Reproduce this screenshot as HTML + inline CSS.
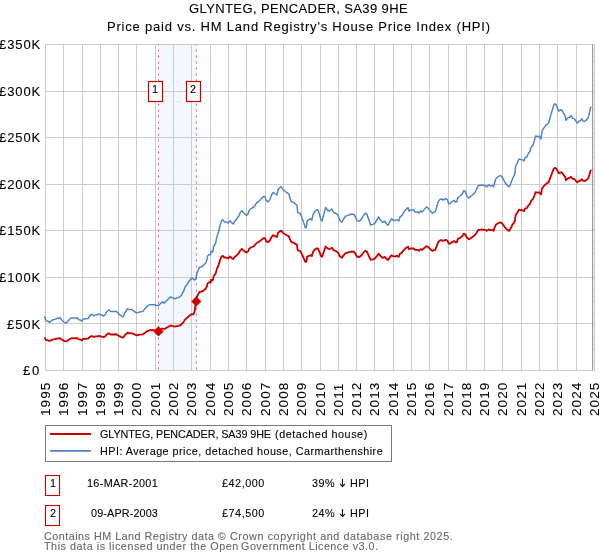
<!DOCTYPE html><html><head><meta charset="utf-8"><title>HPI chart</title><style>
html,body{margin:0;padding:0;background:#fff}body{width:600px;height:560px;position:relative;overflow:hidden;font-family:"Liberation Sans",sans-serif}
.t{position:absolute;white-space:pre;line-height:1;margin:0;padding:0;will-change:transform;-webkit-text-stroke:0.1px currentColor}
.y{position:absolute;white-space:pre;line-height:1;transform-origin:0 0;transform:rotate(-90deg);font-size:13.5px;will-change:transform;-webkit-text-stroke:0.1px #000}
</style></head><body>
<svg width="600" height="560" viewBox="0 0 600 560" style="position:absolute;left:0;top:0">
<rect x="158.5" y="44.5" width="37.9" height="325.7" fill="#f4f7fd"/>
<line x1="45.5" y1="44.5" x2="45.5" y2="370.2" stroke="#cccccc" stroke-width="1"/>
<line x1="63.5" y1="44.5" x2="63.5" y2="370.2" stroke="#cccccc" stroke-width="1"/>
<line x1="82.5" y1="44.5" x2="82.5" y2="370.2" stroke="#cccccc" stroke-width="1"/>
<line x1="100.5" y1="44.5" x2="100.5" y2="370.2" stroke="#cccccc" stroke-width="1"/>
<line x1="118.5" y1="44.5" x2="118.5" y2="370.2" stroke="#cccccc" stroke-width="1"/>
<line x1="136.5" y1="44.5" x2="136.5" y2="370.2" stroke="#cccccc" stroke-width="1"/>
<line x1="155.5" y1="44.5" x2="155.5" y2="370.2" stroke="#cccccc" stroke-width="1"/>
<line x1="173.5" y1="44.5" x2="173.5" y2="370.2" stroke="#cccccc" stroke-width="1"/>
<line x1="191.5" y1="44.5" x2="191.5" y2="370.2" stroke="#cccccc" stroke-width="1"/>
<line x1="210.5" y1="44.5" x2="210.5" y2="370.2" stroke="#cccccc" stroke-width="1"/>
<line x1="228.5" y1="44.5" x2="228.5" y2="370.2" stroke="#cccccc" stroke-width="1"/>
<line x1="246.5" y1="44.5" x2="246.5" y2="370.2" stroke="#cccccc" stroke-width="1"/>
<line x1="265.5" y1="44.5" x2="265.5" y2="370.2" stroke="#cccccc" stroke-width="1"/>
<line x1="283.5" y1="44.5" x2="283.5" y2="370.2" stroke="#cccccc" stroke-width="1"/>
<line x1="301.5" y1="44.5" x2="301.5" y2="370.2" stroke="#cccccc" stroke-width="1"/>
<line x1="320.5" y1="44.5" x2="320.5" y2="370.2" stroke="#cccccc" stroke-width="1"/>
<line x1="338.5" y1="44.5" x2="338.5" y2="370.2" stroke="#cccccc" stroke-width="1"/>
<line x1="356.5" y1="44.5" x2="356.5" y2="370.2" stroke="#cccccc" stroke-width="1"/>
<line x1="374.5" y1="44.5" x2="374.5" y2="370.2" stroke="#cccccc" stroke-width="1"/>
<line x1="393.5" y1="44.5" x2="393.5" y2="370.2" stroke="#cccccc" stroke-width="1"/>
<line x1="411.5" y1="44.5" x2="411.5" y2="370.2" stroke="#cccccc" stroke-width="1"/>
<line x1="429.5" y1="44.5" x2="429.5" y2="370.2" stroke="#cccccc" stroke-width="1"/>
<line x1="448.5" y1="44.5" x2="448.5" y2="370.2" stroke="#cccccc" stroke-width="1"/>
<line x1="466.5" y1="44.5" x2="466.5" y2="370.2" stroke="#cccccc" stroke-width="1"/>
<line x1="484.5" y1="44.5" x2="484.5" y2="370.2" stroke="#cccccc" stroke-width="1"/>
<line x1="502.5" y1="44.5" x2="502.5" y2="370.2" stroke="#cccccc" stroke-width="1"/>
<line x1="521.5" y1="44.5" x2="521.5" y2="370.2" stroke="#cccccc" stroke-width="1"/>
<line x1="539.5" y1="44.5" x2="539.5" y2="370.2" stroke="#cccccc" stroke-width="1"/>
<line x1="557.5" y1="44.5" x2="557.5" y2="370.2" stroke="#cccccc" stroke-width="1"/>
<line x1="576.5" y1="44.5" x2="576.5" y2="370.2" stroke="#cccccc" stroke-width="1"/>
<line x1="594.5" y1="44.5" x2="594.5" y2="370.2" stroke="#cccccc" stroke-width="1"/>
<line x1="45.0" y1="370.5" x2="595.0" y2="370.5" stroke="#cccccc" stroke-width="1"/>
<line x1="45.0" y1="323.5" x2="595.0" y2="323.5" stroke="#cccccc" stroke-width="1"/>
<line x1="45.0" y1="277.5" x2="595.0" y2="277.5" stroke="#cccccc" stroke-width="1"/>
<line x1="45.0" y1="230.5" x2="595.0" y2="230.5" stroke="#cccccc" stroke-width="1"/>
<line x1="45.0" y1="184.5" x2="595.0" y2="184.5" stroke="#cccccc" stroke-width="1"/>
<line x1="45.0" y1="137.5" x2="595.0" y2="137.5" stroke="#cccccc" stroke-width="1"/>
<line x1="45.0" y1="91.5" x2="595.0" y2="91.5" stroke="#cccccc" stroke-width="1"/>
<line x1="45.0" y1="44.5" x2="595.0" y2="44.5" stroke="#cccccc" stroke-width="1"/>
<line x1="592.6" y1="44.5" x2="592.6" y2="370.2" stroke="#969696" stroke-width="1.1"/>
<line x1="593" y1="49.4" x2="594.5" y2="49.4" stroke="#c4c4c4" stroke-width="1"/>
<line x1="593" y1="61.4" x2="594.5" y2="61.4" stroke="#c4c4c4" stroke-width="1"/>
<line x1="593" y1="73.4" x2="594.5" y2="73.4" stroke="#c4c4c4" stroke-width="1"/>
<line x1="593" y1="85.4" x2="594.5" y2="85.4" stroke="#c4c4c4" stroke-width="1"/>
<line x1="593" y1="97.4" x2="594.5" y2="97.4" stroke="#c4c4c4" stroke-width="1"/>
<line x1="593" y1="109.4" x2="594.5" y2="109.4" stroke="#c4c4c4" stroke-width="1"/>
<line x1="593" y1="121.4" x2="594.5" y2="121.4" stroke="#c4c4c4" stroke-width="1"/>
<line x1="593" y1="133.4" x2="594.5" y2="133.4" stroke="#c4c4c4" stroke-width="1"/>
<line x1="593" y1="145.4" x2="594.5" y2="145.4" stroke="#c4c4c4" stroke-width="1"/>
<line x1="593" y1="157.4" x2="594.5" y2="157.4" stroke="#c4c4c4" stroke-width="1"/>
<line x1="593" y1="169.4" x2="594.5" y2="169.4" stroke="#c4c4c4" stroke-width="1"/>
<line x1="593" y1="181.4" x2="594.5" y2="181.4" stroke="#c4c4c4" stroke-width="1"/>
<line x1="593" y1="193.4" x2="594.5" y2="193.4" stroke="#c4c4c4" stroke-width="1"/>
<line x1="593" y1="205.4" x2="594.5" y2="205.4" stroke="#c4c4c4" stroke-width="1"/>
<line x1="593" y1="217.4" x2="594.5" y2="217.4" stroke="#c4c4c4" stroke-width="1"/>
<line x1="593" y1="229.4" x2="594.5" y2="229.4" stroke="#c4c4c4" stroke-width="1"/>
<line x1="593" y1="241.4" x2="594.5" y2="241.4" stroke="#c4c4c4" stroke-width="1"/>
<line x1="593" y1="253.4" x2="594.5" y2="253.4" stroke="#c4c4c4" stroke-width="1"/>
<line x1="593" y1="265.4" x2="594.5" y2="265.4" stroke="#c4c4c4" stroke-width="1"/>
<line x1="593" y1="277.4" x2="594.5" y2="277.4" stroke="#c4c4c4" stroke-width="1"/>
<line x1="593" y1="289.4" x2="594.5" y2="289.4" stroke="#c4c4c4" stroke-width="1"/>
<line x1="593" y1="301.4" x2="594.5" y2="301.4" stroke="#c4c4c4" stroke-width="1"/>
<line x1="593" y1="313.4" x2="594.5" y2="313.4" stroke="#c4c4c4" stroke-width="1"/>
<line x1="593" y1="325.4" x2="594.5" y2="325.4" stroke="#c4c4c4" stroke-width="1"/>
<line x1="593" y1="337.4" x2="594.5" y2="337.4" stroke="#c4c4c4" stroke-width="1"/>
<line x1="593" y1="349.4" x2="594.5" y2="349.4" stroke="#c4c4c4" stroke-width="1"/>
<line x1="593" y1="361.4" x2="594.5" y2="361.4" stroke="#c4c4c4" stroke-width="1"/>
<line x1="158.5" y1="44.5" x2="158.5" y2="370.2" stroke="#ff5555" stroke-width="1" stroke-dasharray="2 4" stroke-dashoffset="1"/>
<line x1="196.4" y1="44.5" x2="196.4" y2="370.2" stroke="#ff5555" stroke-width="1" stroke-dasharray="2 4" stroke-dashoffset="1"/>
<polyline points="44.50,316.50 46.00,320.62 47.75,321.25 49.75,322.25 52.25,320.00 55.00,319.38 57.50,318.12 58.75,318.50 60.00,317.75 61.88,320.00 64.38,322.50 66.25,322.88 68.12,321.00 70.62,318.12 73.75,317.88 77.25,317.88 79.00,319.75 80.62,320.00 81.88,321.25 83.12,319.00 88.12,318.50 90.00,315.25 91.50,314.50 93.12,315.00 94.00,315.88 95.62,314.75 97.50,314.75 98.75,313.75 100.00,314.75 101.88,315.00 103.75,316.00 105.00,315.00 106.88,311.50 109.00,309.75 110.62,311.62 113.75,311.62 115.00,311.62 116.25,311.25 117.50,312.50 120.62,315.62 123.12,316.88 125.00,312.50 127.50,308.75 128.75,309.62 131.88,309.62 134.38,311.50 136.50,312.88 138.12,312.50 140.00,311.88 142.75,311.50 145.00,308.75 147.50,306.00 149.38,304.75 155.00,304.75 156.50,305.62 158.50,305.62 160.00,304.00 162.50,301.88 164.00,303.12 167.50,299.75 170.62,296.88 172.50,297.88 175.00,298.75 176.88,297.88 178.75,297.50 181.25,295.62 182.50,293.12 183.75,291.00 185.00,287.25 187.50,283.75 190.00,280.00 191.88,278.12 193.12,278.75 194.38,280.00 195.62,279.38 196.88,273.75 198.75,268.75 200.00,266.88 201.88,266.88 205.00,263.75 206.25,261.88 206.88,260.00 207.50,256.25 209.00,254.38 210.62,255.00 211.25,251.25 212.75,251.88 213.75,246.25 215.62,243.12 216.88,236.88 218.75,231.25 220.00,225.62 221.50,220.62 222.75,219.75 224.38,221.88 226.25,221.88 228.12,223.12 230.00,220.62 231.50,222.50 233.12,224.00 234.75,221.25 236.88,218.75 238.75,216.25 240.25,212.50 241.88,210.62 244.38,213.75 246.50,215.38 248.12,213.75 249.38,210.00 251.88,208.12 254.00,206.88 256.88,202.50 258.75,201.50 261.25,198.75 263.50,196.50 265.00,196.50 266.25,200.62 268.12,201.88 270.00,199.38 271.50,195.00 273.12,192.50 275.00,193.75 276.88,195.00 278.12,189.38 280.00,187.50 281.25,186.50 283.12,189.75 285.00,191.25 286.88,192.75 288.75,193.75 290.00,198.12 291.50,201.88 293.75,202.25 295.00,203.75 296.88,205.00 297.75,212.50 300.00,213.12 301.88,217.50 303.75,223.12 305.25,227.50 306.25,227.75 307.25,220.62 309.00,219.75 311.00,218.75 311.88,220.00 313.12,214.38 315.00,211.25 316.88,209.75 318.12,210.25 319.38,214.38 321.00,220.00 322.12,221.00 323.75,214.38 325.62,207.50 327.50,210.00 329.38,211.00 331.88,209.00 333.75,212.50 336.25,213.50 338.12,215.62 340.00,220.62 341.88,222.25 343.75,218.75 345.62,216.00 347.50,215.62 349.38,214.75 351.88,214.00 353.75,214.38 355.00,216.00 356.88,220.62 359.38,221.25 361.25,219.38 363.75,215.00 365.62,213.12 366.88,214.38 368.75,219.38 370.62,225.00 373.12,224.38 375.00,223.12 376.88,220.00 378.75,216.88 380.00,219.38 382.50,222.25 385.00,221.25 386.88,224.38 388.12,225.25 390.00,221.25 391.50,219.00 393.12,220.00 395.00,220.62 396.88,219.75 398.75,221.00 400.00,216.88 401.88,215.62 403.12,213.12 405.00,210.62 406.88,208.50 408.12,207.75 409.00,211.00 411.25,210.00 413.75,210.00 415.00,211.88 417.50,211.88 419.00,213.12 420.62,211.00 422.25,211.88 424.38,209.38 426.50,206.88 428.12,208.12 430.00,210.62 432.25,213.12 433.75,212.25 435.25,211.88 436.88,206.25 438.12,201.88 440.00,199.38 441.50,199.00 443.12,200.00 445.62,198.75 447.25,199.38 448.75,203.75 450.25,203.50 452.50,201.25 454.00,200.25 455.00,201.88 456.88,201.88 457.75,197.50 460.00,196.00 462.25,194.00 463.75,190.62 465.00,191.25 466.88,195.62 468.75,198.12 470.62,196.50 473.12,194.38 475.00,192.25 476.25,190.00 478.12,185.62 480.00,185.62 481.88,184.75 483.75,185.62 485.62,185.62 486.88,186.88 488.75,185.00 490.62,186.00 492.50,185.62 493.50,186.88 495.00,181.25 496.00,178.50 498.12,176.88 500.00,175.62 501.25,176.00 503.12,178.75 505.00,182.50 506.88,185.00 509.00,186.88 510.62,183.75 512.50,178.75 514.75,174.38 515.62,166.25 517.25,163.12 519.00,159.00 520.62,159.38 522.50,159.75 524.00,161.00 525.00,157.75 526.88,156.88 528.12,154.00 530.00,151.25 531.00,147.50 533.12,144.75 534.38,140.62 535.62,136.00 537.50,136.50 539.38,136.25 541.00,139.00 541.88,131.50 543.75,128.12 545.62,125.62 547.25,124.00 548.50,123.12 549.75,118.75 551.00,114.38 552.50,109.38 553.75,105.00 555.00,103.75 556.25,105.00 557.50,108.12 558.75,111.00 560.62,110.00 561.88,110.00 563.50,113.12 565.00,115.62 566.00,120.25 567.50,118.12 569.38,117.25 571.00,115.62 572.50,118.12 574.38,118.75 575.62,120.62 577.25,123.12 578.75,121.25 580.62,120.62 581.88,118.75 583.12,121.00 585.00,121.25 586.88,119.38 588.12,118.12 589.38,113.12 590.62,107.50 591.50,106.88" fill="none" stroke="#4f84c9" stroke-width="1.5" stroke-linejoin="round" stroke-linecap="butt"/>
<polyline points="44.50,337.44 46.00,339.96 47.75,340.34 49.75,340.95 52.25,339.58 55.00,339.20 57.50,338.43 58.75,338.66 60.00,338.21 61.88,339.58 64.38,341.10 66.25,341.33 68.12,340.19 70.62,338.43 73.75,338.28 77.25,338.28 79.00,339.43 80.62,339.58 81.88,340.34 83.12,338.97 88.12,338.66 90.00,336.68 91.50,336.22 93.12,336.53 94.00,337.06 95.62,336.38 97.50,336.38 98.75,335.77 100.00,336.38 101.88,336.53 103.75,337.14 105.00,336.53 106.88,334.39 109.00,333.33 110.62,334.47 113.75,334.47 115.00,334.47 116.25,334.24 117.50,335.00 120.62,336.91 123.12,337.67 125.00,335.00 127.50,332.72 128.75,333.25 131.88,333.25 134.38,334.39 136.50,335.23 138.12,335.00 140.00,334.62 142.75,334.39 145.00,332.72 147.50,331.04 149.38,330.28 155.00,330.28 156.50,330.81 158.50,330.81 160.00,329.82 162.50,328.52 164.00,329.28 167.50,327.23 170.62,325.47 172.50,326.08 175.00,326.62 176.88,326.08 178.75,325.85 181.25,324.71 182.50,323.18 183.75,321.89 185.00,319.60 187.50,317.47 190.00,315.18 191.88,314.03 193.12,314.42 194.38,312.38 195.62,304.58 196.88,296.90 198.75,293.10 200.00,291.67 201.88,291.67 205.00,289.30 206.25,287.87 206.88,286.45 207.50,283.60 209.00,282.17 210.62,282.65 211.25,279.80 212.75,280.27 213.75,276.00 215.62,273.62 216.88,268.87 218.75,264.60 220.00,260.32 221.50,256.52 222.75,255.86 224.38,257.47 226.25,257.47 228.12,258.42 230.00,256.52 231.50,257.95 233.12,259.09 234.75,257.00 236.88,255.10 238.75,253.20 240.25,250.35 241.88,248.92 244.38,251.30 246.50,252.53 248.12,251.30 249.38,248.45 251.88,247.02 254.00,246.07 256.88,242.75 258.75,241.99 261.25,239.90 263.50,238.19 265.00,238.19 266.25,241.32 268.12,242.27 270.00,240.37 271.50,237.05 273.12,235.15 275.00,236.10 276.88,237.05 278.12,232.77 280.00,231.35 281.25,230.59 283.12,233.06 285.00,234.20 286.88,235.34 288.75,236.10 290.00,239.42 291.50,242.27 293.75,242.56 295.00,243.70 296.88,244.65 297.75,250.35 300.00,250.82 301.88,254.15 303.75,258.42 305.25,261.75 306.25,261.94 307.25,256.52 309.00,255.86 311.00,255.10 311.88,256.05 313.12,251.77 315.00,249.40 316.88,248.26 318.12,248.64 319.38,251.77 321.00,256.05 322.12,256.81 323.75,251.77 325.62,246.55 327.50,248.45 329.38,249.21 331.88,247.69 333.75,250.35 336.25,251.11 338.12,252.72 340.00,256.52 341.88,257.76 343.75,255.10 345.62,253.01 347.50,252.72 349.38,252.06 351.88,251.49 353.75,251.77 355.00,253.01 356.88,256.52 359.38,257.00 361.25,255.57 363.75,252.25 365.62,250.82 366.88,251.77 368.75,255.57 370.62,259.85 373.12,259.37 375.00,258.42 376.88,256.05 378.75,253.67 380.00,255.57 382.50,257.76 385.00,257.00 386.88,259.37 388.12,260.04 390.00,257.00 391.50,255.29 393.12,256.05 395.00,256.52 396.88,255.86 398.75,256.81 400.00,253.67 401.88,252.72 403.12,250.82 405.00,248.92 406.88,247.31 408.12,246.74 409.00,249.21 411.25,248.45 413.75,248.45 415.00,249.87 417.50,249.87 419.00,250.82 420.62,249.21 422.25,249.87 424.38,247.97 426.50,246.07 428.12,247.02 430.00,248.92 432.25,250.82 433.75,250.16 435.25,249.87 436.88,245.60 438.12,242.27 440.00,240.37 441.50,240.09 443.12,240.85 445.62,239.90 447.25,240.37 448.75,243.70 450.25,243.51 452.50,241.80 454.00,241.04 455.00,242.27 456.88,242.27 457.75,238.95 460.00,237.81 462.25,236.29 463.75,233.72 465.00,234.20 466.88,237.52 468.75,239.42 470.62,238.19 473.12,236.57 475.00,234.96 476.25,233.25 478.12,229.92 480.00,229.92 481.88,229.26 483.75,229.92 485.62,229.92 486.88,230.87 488.75,229.45 490.62,230.21 492.50,229.92 493.50,230.87 495.00,226.60 496.00,224.51 498.12,223.27 500.00,222.32 501.25,222.61 503.12,224.70 505.00,227.55 506.88,229.45 509.00,230.87 510.62,228.50 512.50,224.70 514.75,221.37 515.62,215.20 517.25,212.82 519.00,209.69 520.62,209.97 522.50,210.26 524.00,211.21 525.00,208.74 526.88,208.07 528.12,205.89 530.00,203.80 531.00,200.95 533.12,198.86 534.38,195.72 535.62,192.21 537.50,192.59 539.38,192.40 541.00,194.49 541.88,188.79 543.75,186.22 545.62,184.32 547.25,183.09 548.50,182.42 549.75,179.10 551.00,175.77 552.50,171.97 553.75,168.65 555.00,167.70 556.25,168.65 557.50,171.02 558.75,173.21 560.62,172.45 561.88,172.45 563.50,174.82 565.00,176.72 566.00,180.24 567.50,178.62 569.38,177.96 571.00,176.72 572.50,178.62 574.38,179.10 575.62,180.52 577.25,182.42 578.75,181.00 580.62,180.52 581.88,179.10 583.12,180.81 585.00,181.00 586.88,179.57 588.12,178.62 589.38,174.82 590.62,170.55 591.50,170.07" fill="none" stroke="#cc0000" stroke-width="1.85" stroke-linejoin="round" stroke-linecap="butt"/>
<polygon points="158.5,326.3 163.6,331.4 158.5,336.5 153.4,331.4" fill="#cc0000"/>
<polygon points="196.3,296.3 201.4,301.4 196.3,306.5 191.2,301.4" fill="#cc0000"/>
<rect x="148.5" y="81.5" width="14" height="20" fill="#fff" stroke="#cc0000" stroke-width="1.2"/>
<rect x="186.5" y="81.5" width="14" height="20" fill="#fff" stroke="#cc0000" stroke-width="1.2"/>
<rect x="45.5" y="425.5" width="346" height="36" fill="#fff" stroke="#7a7a7a" stroke-width="1"/>
<line x1="50" y1="434" x2="91" y2="434" stroke="#cc0000" stroke-width="2.1"/>
<line x1="50" y1="450.9" x2="91" y2="450.9" stroke="#4f84c9" stroke-width="1.75"/>
<rect x="45.5" y="475.5" width="14" height="20" fill="#fff" stroke="#cc0000" stroke-width="1.1"/>
<rect x="45.5" y="505.5" width="14" height="20" fill="#fff" stroke="#cc0000" stroke-width="1.1"/>
<path d="M342.5,479.0 V486.4 M340.1,483.9 L342.5,486.7 L344.9,483.9" fill="none" stroke="#111" stroke-width="1.1" stroke-linejoin="miter"/>
<path d="M342.5,509.0 V516.4 M340.1,513.9 L342.5,516.7 L344.9,513.9" fill="none" stroke="#111" stroke-width="1.1" stroke-linejoin="miter"/>
</svg>
<div class="t" id="t0" style="left:189.16px;top:2.00px;font-size:13.0px;color:#000;letter-spacing:0.388px">GLYNTEG, PENCADER, SA39 9HE</div>
<div class="t" id="t1" style="left:107.10px;top:20.00px;font-size:13.0px;color:#000;letter-spacing:0.797px">Price paid vs. HM Land Registry's House Price Index (HPI)</div>
<div class="t" id="t2" style="left:23.46px;top:363.72px;font-size:13.0px;color:#000;letter-spacing:1.750px">£0</div>
<div class="t" id="t3" style="left:6.70px;top:317.57px;font-size:13.0px;color:#000;letter-spacing:0.900px">£50K</div>
<div class="t" id="t4" style="left:-1.20px;top:270.89px;font-size:13.0px;color:#000;letter-spacing:0.900px">£100K</div>
<div class="t" id="t5" style="left:-1.20px;top:224.21px;font-size:13.0px;color:#000;letter-spacing:0.900px">£150K</div>
<div class="t" id="t6" style="left:-1.20px;top:177.52px;font-size:13.0px;color:#000;letter-spacing:0.900px">£200K</div>
<div class="t" id="t7" style="left:-1.20px;top:130.84px;font-size:13.0px;color:#000;letter-spacing:0.900px">£250K</div>
<div class="t" id="t8" style="left:-1.20px;top:85.06px;font-size:13.0px;color:#000;letter-spacing:0.900px">£300K</div>
<div class="t" id="t9" style="left:-1.20px;top:38.38px;font-size:13.0px;color:#000;letter-spacing:0.900px">£350K</div>
<div class="t" id="t10" style="left:100.17px;top:428.56px;font-size:10.8px;color:#000;letter-spacing:-0.082px">GLYNTEG, PENCADER, SA39 9HE</div>
<div class="t" id="t11" style="left:99.98px;top:445.86px;font-size:10.8px;color:#000;letter-spacing:0.472px">HPI: Average price, detached house, Carmarthenshire</div>
<div class="t" id="t12" style="left:152.40px;top:83.67px;font-size:10.8px;color:#000;letter-spacing:0.000px">1</div>
<div class="t" id="t13" style="left:190.35px;top:83.67px;font-size:10.8px;color:#000;letter-spacing:0.000px">2</div>
<div class="t" id="t14" style="left:49.60px;top:477.83px;font-size:10.8px;color:#000;letter-spacing:0.000px">1</div>
<div class="t" id="t15" style="left:50.30px;top:507.83px;font-size:10.8px;color:#000;letter-spacing:0.000px">2</div>
<div class="t" id="t16" style="left:86.82px;top:477.74px;font-size:10.8px;color:#000;letter-spacing:0.350px">16-MAR-2001</div>
<div class="t" id="t17" style="left:90.88px;top:507.74px;font-size:10.8px;color:#000;letter-spacing:0.144px">09-APR-2003</div>
<div class="t" id="t18" style="left:221.98px;top:477.56px;font-size:10.8px;color:#000;letter-spacing:0.540px">£42,000</div>
<div class="t" id="t19" style="left:221.98px;top:507.56px;font-size:10.8px;color:#000;letter-spacing:0.540px">£74,500</div>
<div class="t" id="t20" style="left:312.12px;top:477.74px;font-size:10.8px;color:#000;letter-spacing:0.540px">39%</div>
<div class="t" id="t21" style="left:349.98px;top:477.74px;font-size:10.8px;color:#000;letter-spacing:0.450px">HPI</div>
<div class="t" id="t22" style="left:312.12px;top:507.74px;font-size:10.8px;color:#000;letter-spacing:0.540px">24%</div>
<div class="t" id="t23" style="left:349.98px;top:507.74px;font-size:10.8px;color:#000;letter-spacing:0.450px">HPI</div>
<div class="t" id="t24" style="left:44.31px;top:530.86px;font-size:10.8px;color:#666;letter-spacing:0.478px">Contains HM Land Registry data ©</div>
<div class="t" id="t25" style="left:44.24px;top:540.86px;font-size:10.8px;color:#666;letter-spacing:0.529px">This data is licensed under the Open</div>
<div class="t" id="t26" style="left:275.10px;top:428.56px;font-size:10.8px;color:#000;letter-spacing:0.546px">(detached house)</div>
<div class="t" id="t27" style="left:230.10px;top:530.86px;font-size:10.8px;color:#666;letter-spacing:0.572px">Crown copyright and database right 2025.</div>
<div class="t" id="t28" style="left:241.46px;top:540.86px;font-size:10.8px;color:#666;letter-spacing:0.477px">Government Licence v3.0.</div>
<div class="y" id="y0" style="left:39.00px;top:416.07px;letter-spacing:1.070px">1995</div>
<div class="y" id="y1" style="left:57.00px;top:416.07px;letter-spacing:1.070px">1996</div>
<div class="y" id="y2" style="left:76.00px;top:416.07px;letter-spacing:1.070px">1997</div>
<div class="y" id="y3" style="left:94.00px;top:416.07px;letter-spacing:1.070px">1998</div>
<div class="y" id="y4" style="left:112.00px;top:416.07px;letter-spacing:1.070px">1999</div>
<div class="y" id="y5" style="left:130.00px;top:416.07px;letter-spacing:1.070px">2000</div>
<div class="y" id="y6" style="left:149.00px;top:416.07px;letter-spacing:1.070px">2001</div>
<div class="y" id="y7" style="left:167.00px;top:416.07px;letter-spacing:1.070px">2002</div>
<div class="y" id="y8" style="left:185.00px;top:416.07px;letter-spacing:1.070px">2003</div>
<div class="y" id="y9" style="left:204.00px;top:416.07px;letter-spacing:1.070px">2004</div>
<div class="y" id="y10" style="left:222.00px;top:416.07px;letter-spacing:1.070px">2005</div>
<div class="y" id="y11" style="left:240.00px;top:416.07px;letter-spacing:1.070px">2006</div>
<div class="y" id="y12" style="left:259.00px;top:416.07px;letter-spacing:1.070px">2007</div>
<div class="y" id="y13" style="left:277.00px;top:416.07px;letter-spacing:1.070px">2008</div>
<div class="y" id="y14" style="left:295.00px;top:416.07px;letter-spacing:1.070px">2009</div>
<div class="y" id="y15" style="left:314.00px;top:416.07px;letter-spacing:1.070px">2010</div>
<div class="y" id="y16" style="left:332.00px;top:416.07px;letter-spacing:1.070px">2011</div>
<div class="y" id="y17" style="left:350.00px;top:416.07px;letter-spacing:1.070px">2012</div>
<div class="y" id="y18" style="left:368.00px;top:416.07px;letter-spacing:1.070px">2013</div>
<div class="y" id="y19" style="left:387.00px;top:416.07px;letter-spacing:1.070px">2014</div>
<div class="y" id="y20" style="left:405.00px;top:416.07px;letter-spacing:1.070px">2015</div>
<div class="y" id="y21" style="left:423.00px;top:416.07px;letter-spacing:1.070px">2016</div>
<div class="y" id="y22" style="left:442.00px;top:416.07px;letter-spacing:1.070px">2017</div>
<div class="y" id="y23" style="left:460.00px;top:416.07px;letter-spacing:1.070px">2018</div>
<div class="y" id="y24" style="left:478.00px;top:416.07px;letter-spacing:1.070px">2019</div>
<div class="y" id="y25" style="left:496.00px;top:416.07px;letter-spacing:1.070px">2020</div>
<div class="y" id="y26" style="left:515.00px;top:416.07px;letter-spacing:1.070px">2021</div>
<div class="y" id="y27" style="left:533.00px;top:416.07px;letter-spacing:1.070px">2022</div>
<div class="y" id="y28" style="left:551.00px;top:416.07px;letter-spacing:1.070px">2023</div>
<div class="y" id="y29" style="left:570.00px;top:416.07px;letter-spacing:1.070px">2024</div>
<div class="y" id="y30" style="left:588.00px;top:416.07px;letter-spacing:1.070px">2025</div>
</body></html>
